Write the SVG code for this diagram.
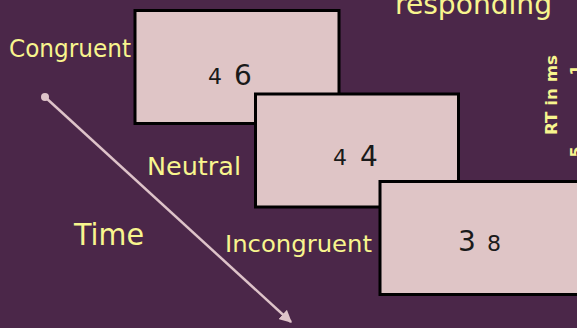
<svg xmlns="http://www.w3.org/2000/svg" width="577" height="328" viewBox="0 0 577 328">
  <defs>
    <style>
      .card { fill: #dfc5c6; stroke: #000; stroke-width: 3; }
      .digit { font-family: "DejaVu Sans", "Liberation Sans", sans-serif; fill: #1a1a1a; }
      .sm { font-size: 22px; }
      .lg { font-size: 28px; }
      .label { font-family: "Comic Sans MS", "DejaVu Sans", sans-serif; fill: #f8f58e; }
      .axis { font-family: "Comic Sans MS", "DejaVu Sans", sans-serif; fill: #f8f58e; font-weight: bold; font-size: 16px; }
      .timeline { stroke: #dec3c9; stroke-width: 2.5; fill: none; }
    </style>
    <marker id="arrowhead" viewBox="0 0 10 10" refX="9" refY="5" markerWidth="5" markerHeight="5" orient="auto" markerUnits="strokeWidth">
      <path d="M0,0 L10,5 L0,10 Z" fill="#dec3c9"/>
    </marker>
  </defs>

  <rect width="577" height="328" fill="#4b2749"/>

  <!-- heading fragment and axis labels at the top/right -->
  <text class="label" x="395" y="14" font-size="29" textLength="157" lengthAdjust="spacingAndGlyphs">responding</text>
  <text class="axis" transform="translate(557,95) rotate(-90)" text-anchor="middle" textLength="80" lengthAdjust="spacingAndGlyphs">RT in ms</text>
  <text class="axis" transform="translate(582,70) rotate(-90)" text-anchor="middle">1</text>
  <text class="axis" transform="translate(582,152) rotate(-90)" text-anchor="middle">5</text>

  <!-- timeline arrow -->
  <g id="connectors">
    <circle cx="45" cy="97" r="4" fill="#dec3c9"/>
    <line class="timeline" x1="45" y1="97" x2="291" y2="322" marker-end="url(#arrowhead)"/>
  </g>

  <text class="label" x="74" y="245" font-size="31" textLength="70" lengthAdjust="spacingAndGlyphs">Time</text>

  <!-- congruent trial -->
  <g id="congruent">
    <text class="label" x="9" y="57" font-size="24" textLength="122" lengthAdjust="spacingAndGlyphs">Congruent</text>
    <rect class="card" x="135" y="10.5" width="204" height="113"/>
    <text class="digit sm" x="208" y="84">4</text>
    <text class="digit lg" x="234" y="85">6</text>
  </g>

  <!-- neutral trial -->
  <g id="neutral">
    <text class="label" x="147" y="175" font-size="24" textLength="94" lengthAdjust="spacingAndGlyphs">Neutral</text>
    <rect class="card" x="255.5" y="94" width="203" height="113"/>
    <text class="digit sm" x="333" y="165">4</text>
    <text class="digit lg" x="360" y="166">4</text>
  </g>

  <!-- incongruent trial -->
  <g id="incongruent">
    <text class="label" x="225" y="252" font-size="23" textLength="147" lengthAdjust="spacingAndGlyphs">Incongruent</text>
    <rect class="card" x="380" y="181.5" width="210" height="113"/>
    <text class="digit lg" x="458" y="251">3</text>
    <text class="digit sm" x="487" y="251">8</text>
  </g>
</svg>
